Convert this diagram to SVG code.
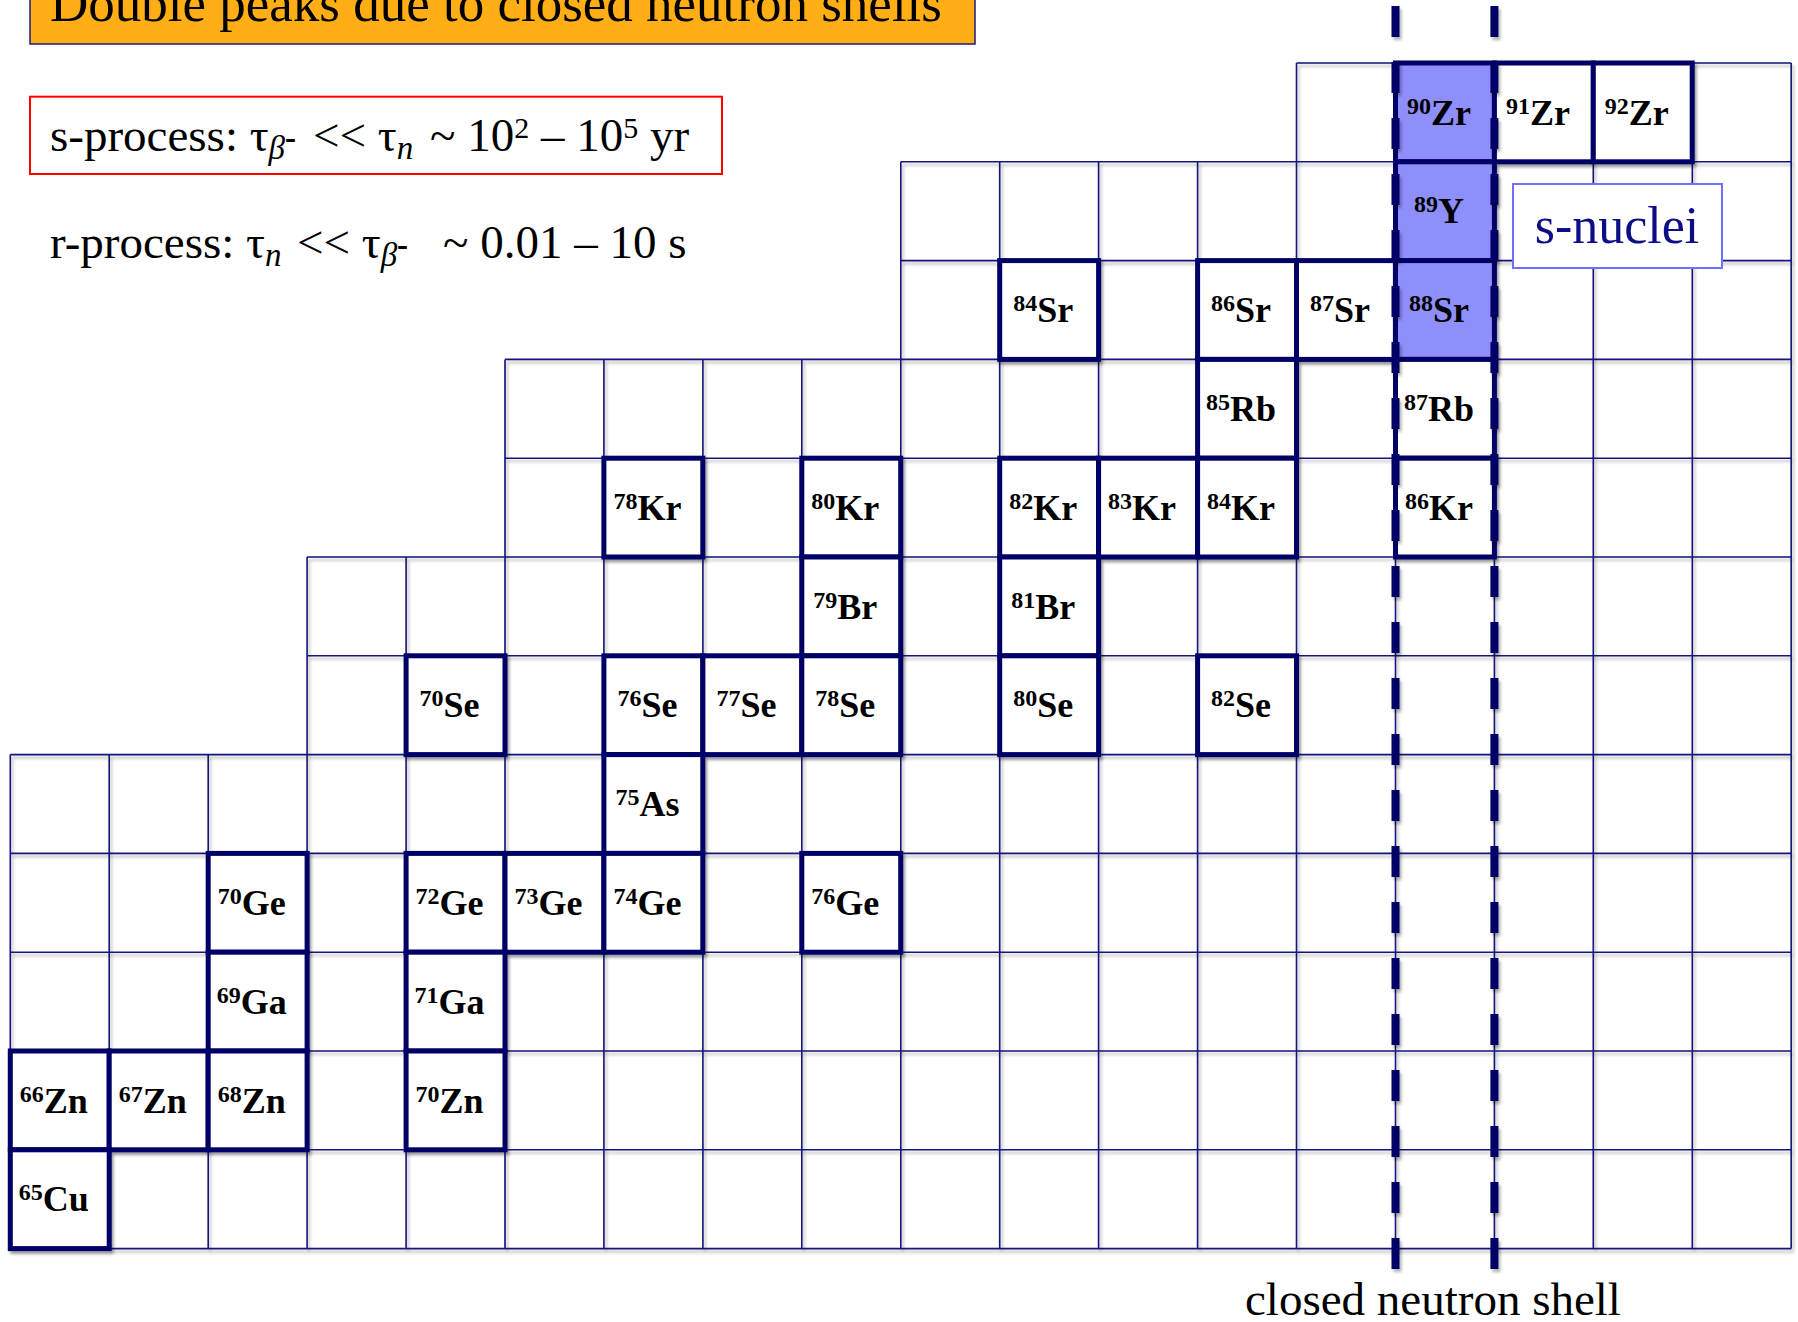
<svg xmlns="http://www.w3.org/2000/svg" width="1798" height="1322" viewBox="0 0 1798 1322">
<defs>
<filter id="sh" x="-20%" y="-20%" width="140%" height="140%">
<feDropShadow dx="2" dy="3" stdDeviation="1.6" flood-color="#000" flood-opacity="0.3"/>
</filter>
<style>
.t{font-family:"Liberation Serif","Times New Roman",serif;fill:#000}
.nl{font-family:"Liberation Serif","Times New Roman",serif;font-weight:bold;font-size:36px;fill:#000;text-anchor:middle}
.sup{font-size:24px}
.b{fill:#fff;stroke:#000066;stroke-width:5}
.hl{fill:#8f8ffc}
.grid{fill:none;stroke:#15157a;stroke-width:1.6}
.shell{stroke:#000066;stroke-width:8;stroke-dasharray:31 25;fill:none}
.it{font-style:italic}
</style>
</defs>
<rect width="1798" height="1322" fill="#fff"/>

<g id="title">
<rect x="30" y="-10" width="945" height="54" fill="#ffae15" stroke="#1a1a80" stroke-width="1.5"/>
<text class="t" x="50" y="21" font-size="53">Double peaks due to closed neutron shells</text>
</g>

<g id="s-process">
<rect x="30" y="96.7" width="692" height="77.3" fill="#fff" stroke="#ff0000" stroke-width="2"/>
<text class="t" x="50" y="151" font-size="47">s-process: τ<tspan class="it" font-size="33" dy="8">β</tspan><tspan font-size="33" font-weight="bold" dy="-10">-</tspan><tspan x="313" dy="2">&lt;&lt; τ</tspan><tspan class="it" font-size="33" dy="8">n</tspan><tspan x="430" dy="-8">~ 10</tspan><tspan font-size="30" dy="-13">2</tspan><tspan dy="13"> – 10</tspan><tspan font-size="30" dy="-13">5</tspan><tspan dy="13"> yr</tspan></text>
</g>

<g id="r-process">
<text class="t" x="50" y="258" font-size="47">r-process: τ<tspan class="it" font-size="33" dy="8">n</tspan><tspan x="297" dy="-8">&lt;&lt; τ</tspan><tspan class="it" font-size="33" dy="8">β</tspan><tspan font-size="33" font-weight="bold" dy="-10">-</tspan><tspan x="443" dy="2">~ 0.01 – 10 s</tspan></text>
</g>

<g id="grid" filter="url(#sh)">
<path class="grid" d="M1296.5 63H1791.2M900.8 161.8H1791.2M900.8 260.6H1791.2M505 359.4H1791.2M505 458.2H1791.2M307.1 557H1791.2M307.1 655.8H1791.2M10.3 754.6H1791.2M10.3 853.4H1791.2M10.3 952.2H1791.2M10.3 1051H1791.2M10.3 1149.8H1791.2M10.3 1248.6H1791.2M10.3 754.6V1248.6M109.2 754.6V1248.6M208.2 754.6V1248.6M307.1 557V1248.6M406.1 557V1248.6M505 359.4V1248.6M603.9 359.4V1248.6M702.9 359.4V1248.6M801.8 359.4V1248.6M900.8 161.8V1248.6M999.7 161.8V1248.6M1098.6 161.8V1248.6M1197.6 161.8V1248.6M1296.5 63V1248.6M1395.5 63V1248.6M1494.4 63V1248.6M1593.3 63V1248.6M1692.3 63V1248.6M1791.2 63V1248.6"/>
</g>

<g id="nodes">
<g filter="url(#sh)">
<rect id="b-90Zr" class="b hl" x="1395.5" y="63" width="98.9" height="98.8"/>
<rect id="b-91Zr" class="b" x="1494.4" y="63" width="98.9" height="98.8"/>
<rect id="b-92Zr" class="b" x="1593.3" y="63" width="98.9" height="98.8"/>
<rect id="b-89Y" class="b hl" x="1395.5" y="161.8" width="98.9" height="98.8"/>
<rect id="b-84Sr" class="b" x="999.7" y="260.6" width="98.9" height="98.8"/>
<rect id="b-86Sr" class="b" x="1197.6" y="260.6" width="98.9" height="98.8"/>
<rect id="b-87Sr" class="b" x="1296.5" y="260.6" width="98.9" height="98.8"/>
<rect id="b-88Sr" class="b hl" x="1395.5" y="260.6" width="98.9" height="98.8"/>
<rect id="b-85Rb" class="b" x="1197.6" y="359.4" width="98.9" height="98.8"/>
<rect id="b-87Rb" class="b" x="1395.5" y="359.4" width="98.9" height="98.8"/>
<rect id="b-78Kr" class="b" x="603.9" y="458.2" width="98.9" height="98.8"/>
<rect id="b-80Kr" class="b" x="801.8" y="458.2" width="98.9" height="98.8"/>
<rect id="b-82Kr" class="b" x="999.7" y="458.2" width="98.9" height="98.8"/>
<rect id="b-83Kr" class="b" x="1098.6" y="458.2" width="98.9" height="98.8"/>
<rect id="b-84Kr" class="b" x="1197.6" y="458.2" width="98.9" height="98.8"/>
<rect id="b-86Kr" class="b" x="1395.5" y="458.2" width="98.9" height="98.8"/>
<rect id="b-79Br" class="b" x="801.8" y="557" width="98.9" height="98.8"/>
<rect id="b-81Br" class="b" x="999.7" y="557" width="98.9" height="98.8"/>
<rect id="b-70Se" class="b" x="406.1" y="655.8" width="98.9" height="98.8"/>
<rect id="b-76Se" class="b" x="603.9" y="655.8" width="98.9" height="98.8"/>
<rect id="b-77Se" class="b" x="702.9" y="655.8" width="98.9" height="98.8"/>
<rect id="b-78Se" class="b" x="801.8" y="655.8" width="98.9" height="98.8"/>
<rect id="b-80Se" class="b" x="999.7" y="655.8" width="98.9" height="98.8"/>
<rect id="b-82Se" class="b" x="1197.6" y="655.8" width="98.9" height="98.8"/>
<rect id="b-75As" class="b" x="603.9" y="754.6" width="98.9" height="98.8"/>
<rect id="b-70Ge" class="b" x="208.2" y="853.4" width="98.9" height="98.8"/>
<rect id="b-72Ge" class="b" x="406.1" y="853.4" width="98.9" height="98.8"/>
<rect id="b-73Ge" class="b" x="505" y="853.4" width="98.9" height="98.8"/>
<rect id="b-74Ge" class="b" x="603.9" y="853.4" width="98.9" height="98.8"/>
<rect id="b-76Ge" class="b" x="801.8" y="853.4" width="98.9" height="98.8"/>
<rect id="b-69Ga" class="b" x="208.2" y="952.2" width="98.9" height="98.8"/>
<rect id="b-71Ga" class="b" x="406.1" y="952.2" width="98.9" height="98.8"/>
<rect id="b-66Zn" class="b" x="10.3" y="1051" width="98.9" height="98.8"/>
<rect id="b-67Zn" class="b" x="109.2" y="1051" width="98.9" height="98.8"/>
<rect id="b-68Zn" class="b" x="208.2" y="1051" width="98.9" height="98.8"/>
<rect id="b-70Zn" class="b" x="406.1" y="1051" width="98.9" height="98.8"/>
<rect id="b-65Cu" class="b" x="10.3" y="1149.8" width="98.9" height="98.8"/>
</g>
<g id="n-90Zr"><text class="nl" x="1439" y="124.5"><tspan class="sup" dy="-11">90</tspan><tspan dy="11">Zr</tspan></text></g>
<g id="n-91Zr"><text class="nl" x="1537.9" y="124.5"><tspan class="sup" dy="-11">91</tspan><tspan dy="11">Zr</tspan></text></g>
<g id="n-92Zr"><text class="nl" x="1636.8" y="124.5"><tspan class="sup" dy="-11">92</tspan><tspan dy="11">Zr</tspan></text></g>
<g id="n-89Y"><text class="nl" x="1439" y="223.3"><tspan class="sup" dy="-11">89</tspan><tspan dy="11">Y</tspan></text></g>
<g id="n-84Sr"><text class="nl" x="1043.2" y="322.1"><tspan class="sup" dy="-11">84</tspan><tspan dy="11">Sr</tspan></text></g>
<g id="n-86Sr"><text class="nl" x="1241.1" y="322.1"><tspan class="sup" dy="-11">86</tspan><tspan dy="11">Sr</tspan></text></g>
<g id="n-87Sr"><text class="nl" x="1340" y="322.1"><tspan class="sup" dy="-11">87</tspan><tspan dy="11">Sr</tspan></text></g>
<g id="n-88Sr"><text class="nl" x="1439" y="322.1"><tspan class="sup" dy="-11">88</tspan><tspan dy="11">Sr</tspan></text></g>
<g id="n-85Rb"><text class="nl" x="1241.1" y="420.9"><tspan class="sup" dy="-11">85</tspan><tspan dy="11">Rb</tspan></text></g>
<g id="n-87Rb"><text class="nl" x="1439" y="420.9"><tspan class="sup" dy="-11">87</tspan><tspan dy="11">Rb</tspan></text></g>
<g id="n-78Kr"><text class="nl" x="647.4" y="519.7"><tspan class="sup" dy="-11">78</tspan><tspan dy="11">Kr</tspan></text></g>
<g id="n-80Kr"><text class="nl" x="845.3" y="519.7"><tspan class="sup" dy="-11">80</tspan><tspan dy="11">Kr</tspan></text></g>
<g id="n-82Kr"><text class="nl" x="1043.2" y="519.7"><tspan class="sup" dy="-11">82</tspan><tspan dy="11">Kr</tspan></text></g>
<g id="n-83Kr"><text class="nl" x="1142.1" y="519.7"><tspan class="sup" dy="-11">83</tspan><tspan dy="11">Kr</tspan></text></g>
<g id="n-84Kr"><text class="nl" x="1241.1" y="519.7"><tspan class="sup" dy="-11">84</tspan><tspan dy="11">Kr</tspan></text></g>
<g id="n-86Kr"><text class="nl" x="1439" y="519.7"><tspan class="sup" dy="-11">86</tspan><tspan dy="11">Kr</tspan></text></g>
<g id="n-79Br"><text class="nl" x="845.3" y="618.5"><tspan class="sup" dy="-11">79</tspan><tspan dy="11">Br</tspan></text></g>
<g id="n-81Br"><text class="nl" x="1043.2" y="618.5"><tspan class="sup" dy="-11">81</tspan><tspan dy="11">Br</tspan></text></g>
<g id="n-70Se"><text class="nl" x="449.6" y="717.3"><tspan class="sup" dy="-11">70</tspan><tspan dy="11">Se</tspan></text></g>
<g id="n-76Se"><text class="nl" x="647.4" y="717.3"><tspan class="sup" dy="-11">76</tspan><tspan dy="11">Se</tspan></text></g>
<g id="n-77Se"><text class="nl" x="746.4" y="717.3"><tspan class="sup" dy="-11">77</tspan><tspan dy="11">Se</tspan></text></g>
<g id="n-78Se"><text class="nl" x="845.3" y="717.3"><tspan class="sup" dy="-11">78</tspan><tspan dy="11">Se</tspan></text></g>
<g id="n-80Se"><text class="nl" x="1043.2" y="717.3"><tspan class="sup" dy="-11">80</tspan><tspan dy="11">Se</tspan></text></g>
<g id="n-82Se"><text class="nl" x="1241.1" y="717.3"><tspan class="sup" dy="-11">82</tspan><tspan dy="11">Se</tspan></text></g>
<g id="n-75As"><text class="nl" x="647.4" y="816.1"><tspan class="sup" dy="-11">75</tspan><tspan dy="11">As</tspan></text></g>
<g id="n-70Ge"><text class="nl" x="251.7" y="914.9"><tspan class="sup" dy="-11">70</tspan><tspan dy="11">Ge</tspan></text></g>
<g id="n-72Ge"><text class="nl" x="449.6" y="914.9"><tspan class="sup" dy="-11">72</tspan><tspan dy="11">Ge</tspan></text></g>
<g id="n-73Ge"><text class="nl" x="548.5" y="914.9"><tspan class="sup" dy="-11">73</tspan><tspan dy="11">Ge</tspan></text></g>
<g id="n-74Ge"><text class="nl" x="647.4" y="914.9"><tspan class="sup" dy="-11">74</tspan><tspan dy="11">Ge</tspan></text></g>
<g id="n-76Ge"><text class="nl" x="845.3" y="914.9"><tspan class="sup" dy="-11">76</tspan><tspan dy="11">Ge</tspan></text></g>
<g id="n-69Ga"><text class="nl" x="251.7" y="1013.7"><tspan class="sup" dy="-11">69</tspan><tspan dy="11">Ga</tspan></text></g>
<g id="n-71Ga"><text class="nl" x="449.6" y="1013.7"><tspan class="sup" dy="-11">71</tspan><tspan dy="11">Ga</tspan></text></g>
<g id="n-66Zn"><text class="nl" x="53.8" y="1112.5"><tspan class="sup" dy="-11">66</tspan><tspan dy="11">Zn</tspan></text></g>
<g id="n-67Zn"><text class="nl" x="152.7" y="1112.5"><tspan class="sup" dy="-11">67</tspan><tspan dy="11">Zn</tspan></text></g>
<g id="n-68Zn"><text class="nl" x="251.7" y="1112.5"><tspan class="sup" dy="-11">68</tspan><tspan dy="11">Zn</tspan></text></g>
<g id="n-70Zn"><text class="nl" x="449.6" y="1112.5"><tspan class="sup" dy="-11">70</tspan><tspan dy="11">Zn</tspan></text></g>
<g id="n-65Cu"><text class="nl" x="53.8" y="1211.3"><tspan class="sup" dy="-11">65</tspan><tspan dy="11">Cu</tspan></text></g>
</g>

<g id="connectors" filter="url(#sh)">
<line class="shell" x1="1395.5" y1="6" x2="1395.5" y2="1269"/>
<line class="shell" x1="1494.4" y1="6" x2="1494.4" y2="1269"/>
</g>

<g id="s-nuclei">
<rect x="1513" y="184" width="209" height="84" fill="#fff" stroke="#7070ff" stroke-width="2"/>
<text class="t" x="1617" y="243" font-size="52" text-anchor="middle" style="fill:#0d0d85">s-nuclei</text>
</g>

<g id="shell-label">
<text class="t" x="1245" y="1315" font-size="47">closed neutron shell</text>
</g>
</svg>
